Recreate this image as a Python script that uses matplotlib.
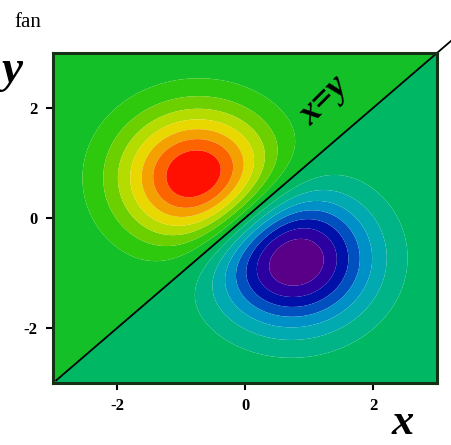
import numpy as np
import matplotlib.pyplot as plt
from matplotlib.colors import ListedColormap, BoundaryNorm

plt.rcParams["axes.unicode_minus"] = False

# grid and field parameters
x_min, x_max = -3.0, 3.0
y_min, y_max = -3.0, 3.0
lobe_offset = 0.72     # lobes sit at (-a, a) and (a, -a)
lobe_width = 1.55

# contour bands (field normalised to +/-1) and their fill colours
levels = [-1.0, -0.875, -0.75, -0.625, -0.5, -0.375, -0.25, -0.125, 0.0,
          0.125, 0.25, 0.375, 0.5, 0.625, 0.75, 0.875, 1.0]
band_colors = ["#5a0088", "#2c00a0", "#0010a8", "#0050c0", "#0090c8", "#00aab0", "#00b488", "#00b864",
               "#14c028", "#2ec80c", "#6cd000", "#b4dc00", "#e8d800", "#f4a000", "#fc6400", "#ff1000"]

xticks = [-2, 0, 2]
yticks = [-2, 0, 2]

x = np.linspace(x_min, x_max, 400)
y = np.linspace(y_min, y_max, 400)
X, Y = np.meshgrid(x, y)
a = lobe_offset
Z = (np.exp(-((X + a)**2 + (Y - a)**2) / lobe_width)
     - np.exp(-((X - a)**2 + (Y + a)**2) / lobe_width))
Z = Z / np.abs(Z).max() * 0.999

fig = plt.figure(figsize=(4.51, 4.45), dpi=100)
ax = fig.add_axes([0.1175, 0.139, 0.8515, 0.742])

cmap = ListedColormap(band_colors)
norm = BoundaryNorm(levels, cmap.N)
ax.contourf(X, Y, Z, levels=levels, cmap=cmap, norm=norm, antialiased=True)

# diagonal x = y, running past the frame
diag = np.array([-2.95, 3.4])
ax.plot(diag, diag, color="black", lw=1.3, clip_on=False)

ax.set_xlim(x_min, x_max)
ax.set_ylim(y_min, y_max)
ax.set_xticks(xticks)
ax.set_yticks(yticks)
ax.tick_params(direction="out", length=5, width=1.5, labelsize=12, pad=6)
for lab in ax.get_xticklabels() + ax.get_yticklabels():
    lab.set_fontweight("bold")
    lab.set_family("Liberation Serif")
for sp in ax.spines.values():
    sp.set_linewidth(2.2)
    sp.set_color("#163016")

serif = "Liberation Serif"
ax.text(1.23, 2.13, "x=y", rotation=45, fontsize=26, fontweight="bold", style="italic",
        family=serif, ha="center", va="center", rotation_mode="anchor")
fig.text(0.893, 0.004, "x", fontsize=32, fontweight="bold", style="italic", family=serif,
         ha="center", va="bottom")
fig.text(0.004, 0.816, "y", fontsize=34, fontweight="bold", style="italic", family=serif,
         ha="left", va="baseline")
fig.text(0.033, 0.94, "fan", fontsize=15, family=serif, ha="left", va="baseline")

fig.savefig("out.png", dpi=100)
